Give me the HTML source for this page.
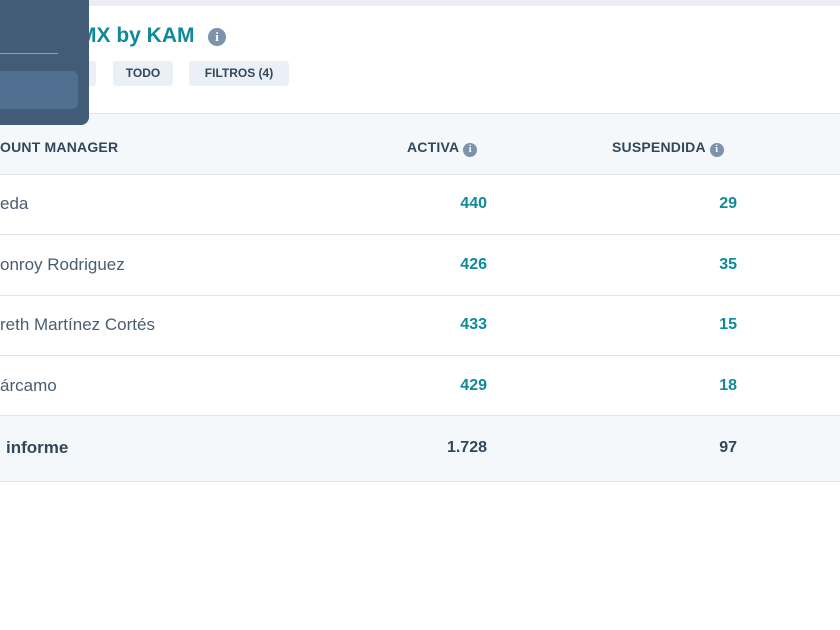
<!DOCTYPE html>
<html><head><meta charset="utf-8"><style>
*{margin:0;padding:0;box-sizing:border-box}
body{width:840px;height:630px;overflow:hidden;background:#fff;font-family:"Liberation Sans",sans-serif;position:relative;color:#33475b}
.a{position:absolute;white-space:nowrap}
.top{left:0;top:0;width:840px;height:6px;background:#eaeef2}
.panel{left:0;top:0;width:89px;height:125px;background:#425b76;border-bottom-right-radius:8px;z-index:5}
.line{left:0;top:53px;width:58px;height:1px;background:#8da2b8}
.btn{left:0;top:71px;width:78px;height:38px;background:#516f90;border-radius:0 6px 6px 0}
.title{left:79px;top:24px;font-size:21px;font-weight:bold;color:#0e8a9a}
.ic{width:18px;height:18px;border-radius:50%;background:#7c93ab;color:#fff;font-size:13px;font-weight:bold;text-align:center;line-height:18px;font-family:"Liberation Serif",serif}
.chip{top:61px;height:25px;background:#eaf0f6;border-radius:3px;font-size:12px;font-weight:bold;color:#33475b;text-align:center;line-height:25px}
.band{left:0;width:840px;background:#f5f8fa}
.hl{left:0;width:840px;height:1px;background:#dfe3eb}
.h{font-size:14px;font-weight:bold;letter-spacing:.2px;color:#33475b}
.n{font-size:17px;color:#4a5d70}
.v{font-size:16px;font-weight:bold;color:#0e8a9a;text-align:right}
.si{width:14px;height:14px;font-size:10px;line-height:14px;display:inline-block;vertical-align:0;margin-left:4px}
</style></head><body>
<div class="a top"></div>
<div class="a panel"><div class="a line"></div><div class="a btn"></div></div>
<div class="a title">MX by KAM</div>
<div class="a ic" style="left:208px;top:28px">i</div>
<div class="a chip" style="left:60px;width:36px"></div>
<div class="a chip" style="left:113px;width:60px">TODO</div>
<div class="a chip" style="left:189px;width:100px">FILTROS (4)</div>
<div class="a band" style="top:113px;height:61px"></div>
<div class="a band" style="top:415px;height:66px"></div>
<div class="a hl" style="top:113px"></div>
<div class="a hl" style="top:174px"></div>
<div class="a hl" style="top:234px"></div>
<div class="a hl" style="top:295px"></div>
<div class="a hl" style="top:355px"></div>
<div class="a hl" style="top:415px"></div>
<div class="a hl" style="top:481px"></div>
<div class="a h" style="left:0;top:139px">OUNT MANAGER</div>
<div class="a h" style="left:407px;top:139px">ACTIVA<span class="ic si">i</span></div>
<div class="a h" style="left:612px;top:139px">SUSPENDIDA<span class="ic si">i</span></div>
<div class="a n" style="left:0;top:194px">eda</div>
<div class="a n" style="left:0;top:255px">onroy Rodriguez</div>
<div class="a n" style="left:0;top:315px">reth Martínez Cortés</div>
<div class="a n" style="left:0;top:376px">árcamo</div>
<div class="a n" style="left:6px;top:438px;font-weight:bold;color:#33475b">informe</div>
<div class="a v" style="right:353px;top:195px">440</div>
<div class="a v" style="right:103px;top:195px">29</div>
<div class="a v" style="right:353px;top:256px">426</div>
<div class="a v" style="right:103px;top:256px">35</div>
<div class="a v" style="right:353px;top:316px">433</div>
<div class="a v" style="right:103px;top:316px">15</div>
<div class="a v" style="right:353px;top:377px">429</div>
<div class="a v" style="right:103px;top:377px">18</div>
<div class="a v" style="right:353px;top:439px;color:#33475b">1.728</div>
<div class="a v" style="right:103px;top:439px;color:#33475b">97</div>
</body></html>
